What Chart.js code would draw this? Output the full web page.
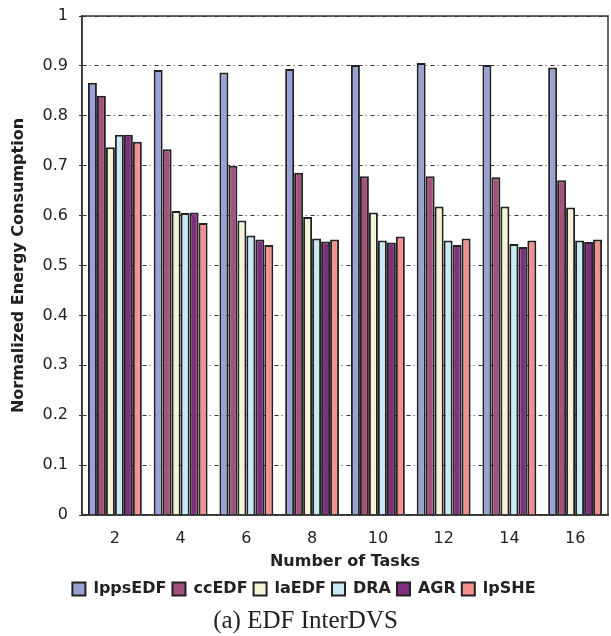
<!DOCTYPE html>
<html>
<head>
<meta charset="utf-8">
<script src="https://cdn.jsdelivr.net/npm/chart.js@4.4.1/dist/chart.umd.min.js"></script>
<style>
    html, body { margin: 0; padding: 0; background: #fff; }
    #wrap { position: relative; width: 611px; height: 636px; }
    #chart { position: absolute; left: 0; top: 0; }
    #caption {
        position: absolute; left: 0; top: 605px; width: 611px;
        text-align: center; font-family: "Liberation Serif", "Times New Roman", serif;
        font-size: 25px; line-height: 30px; color: #222;
    }
</style>
</head>
<body>
<div id="wrap">
    <canvas id="chart" width="611" height="607"></canvas>
    <div id="caption">(a) EDF InterDVS</div>
</div>
<script>
// Datos del gráfico
const tasks   = ['2', '4', '6', '8', '10', '12', '14', '16'];
const lppsEDF = [0.866, 0.892, 0.887, 0.894, 0.902, 0.906, 0.902, 0.897];
const ccEDF   = [0.840, 0.733, 0.700, 0.686, 0.679, 0.679, 0.677, 0.671];
const laEDF   = [0.737, 0.609, 0.590, 0.597, 0.606, 0.618, 0.618, 0.616];
const DRA     = [0.762, 0.605, 0.560, 0.554, 0.550, 0.550, 0.543, 0.550];
const AGR     = [0.762, 0.606, 0.552, 0.548, 0.546, 0.541, 0.537, 0.547];
const lpSHE   = [0.748, 0.585, 0.541, 0.552, 0.558, 0.554, 0.550, 0.552];

const edge = '#222222';

// marco alrededor del área del gráfico
const frame = {
    id: 'frame',
    afterDraw(chart) {
        const a = chart.chartArea;
        const ctx = chart.ctx;
        ctx.save();
        ctx.strokeStyle = '#333';
        ctx.lineWidth = 1.5;
        ctx.strokeRect(a.left, a.top, a.right - a.left, a.bottom - a.top);
        ctx.restore();
    }
};

new Chart(document.getElementById('chart'), {
    type: 'bar',
    data: {
        labels: tasks,
        datasets: [
            { label: 'lppsEDF', data: lppsEDF, backgroundColor: '#98a2d4', borderColor: edge, borderWidth: 2 },
            { label: 'ccEDF', data: ccEDF, backgroundColor: '#a4527c', borderColor: edge, borderWidth: 2 },
            { label: 'laEDF', data: laEDF, backgroundColor: '#f4f3d6', borderColor: edge, borderWidth: 2 },
            { label: 'DRA', data: DRA, backgroundColor: '#c9eaf5', borderColor: edge, borderWidth: 2 },
            { label: 'AGR', data: AGR, backgroundColor: '#7e2f7e', borderColor: edge, borderWidth: 2 },
            { label: 'lpSHE', data: lpSHE, backgroundColor: '#f2918e', borderColor: edge, borderWidth: 2 }
        ]
    },
    options: {
        responsive: false,
        animation: false,
        layout: { autoPadding: false, padding: { left: 0, right: 3, top: 16, bottom: 0 } },
        datasets: {
            bar: { barPercentage: 1, categoryPercentage: 0.82 }
        },
        plugins: {
            tooltip: { enabled: false },
            legend: {
                position: 'bottom',
                labels: {
                    boxWidth: 13,
                    boxHeight: 13,
                    padding: 6,
                    color: '#222',
                    font: { family: 'DejaVu Sans', size: 16, weight: 'bold' }
                }
            }
        },
        scales: {
            x: {
                grid: { display: false },
                border: { display: true, color: '#333', width: 1.5 },
                ticks: {
                    padding: 6,
                    color: '#222',
                    font: { family: 'DejaVu Sans', size: 16 }
                },
                title: {
                    display: true,
                    text: 'Number of Tasks',
                    color: '#222',
                    padding: { top: 0, bottom: 3.5 },
                    font: { family: 'DejaVu Sans', size: 16, weight: 'bold' }
                },
                afterFit(scale) { scale.height = 60; }
            },
            y: {
                min: 0,
                max: 1,
                ticks: {
                    stepSize: 0.1,
                    padding: 11,
                    color: '#222',
                    font: { family: 'DejaVu Sans', size: 16 },
                    callback: v => (Math.round(v * 10) / 10).toString()
                },
                grid: {
                    color: '#333',
                    lineWidth: 1,
                    tickLength: 3,
                    tickColor: '#333',
                    tickBorderDash: []
                },
                border: { display: true, color: '#333', width: 1.5, dash: [4, 3, 1, 4] },
                title: {
                    display: true,
                    text: 'Normalized Energy Consumption',
                    color: '#222',
                    padding: { top: 9, bottom: 0 },
                    font: { family: 'DejaVu Sans', size: 16, weight: 'bold' }
                },
                afterFit(scale) {
                    scale.width = 82;
                    scale.paddingTop = 0;
                    scale.paddingBottom = 0;
                }
            }
        }
    },
    plugins: [frame]
});
</script>
</body>
</html>
